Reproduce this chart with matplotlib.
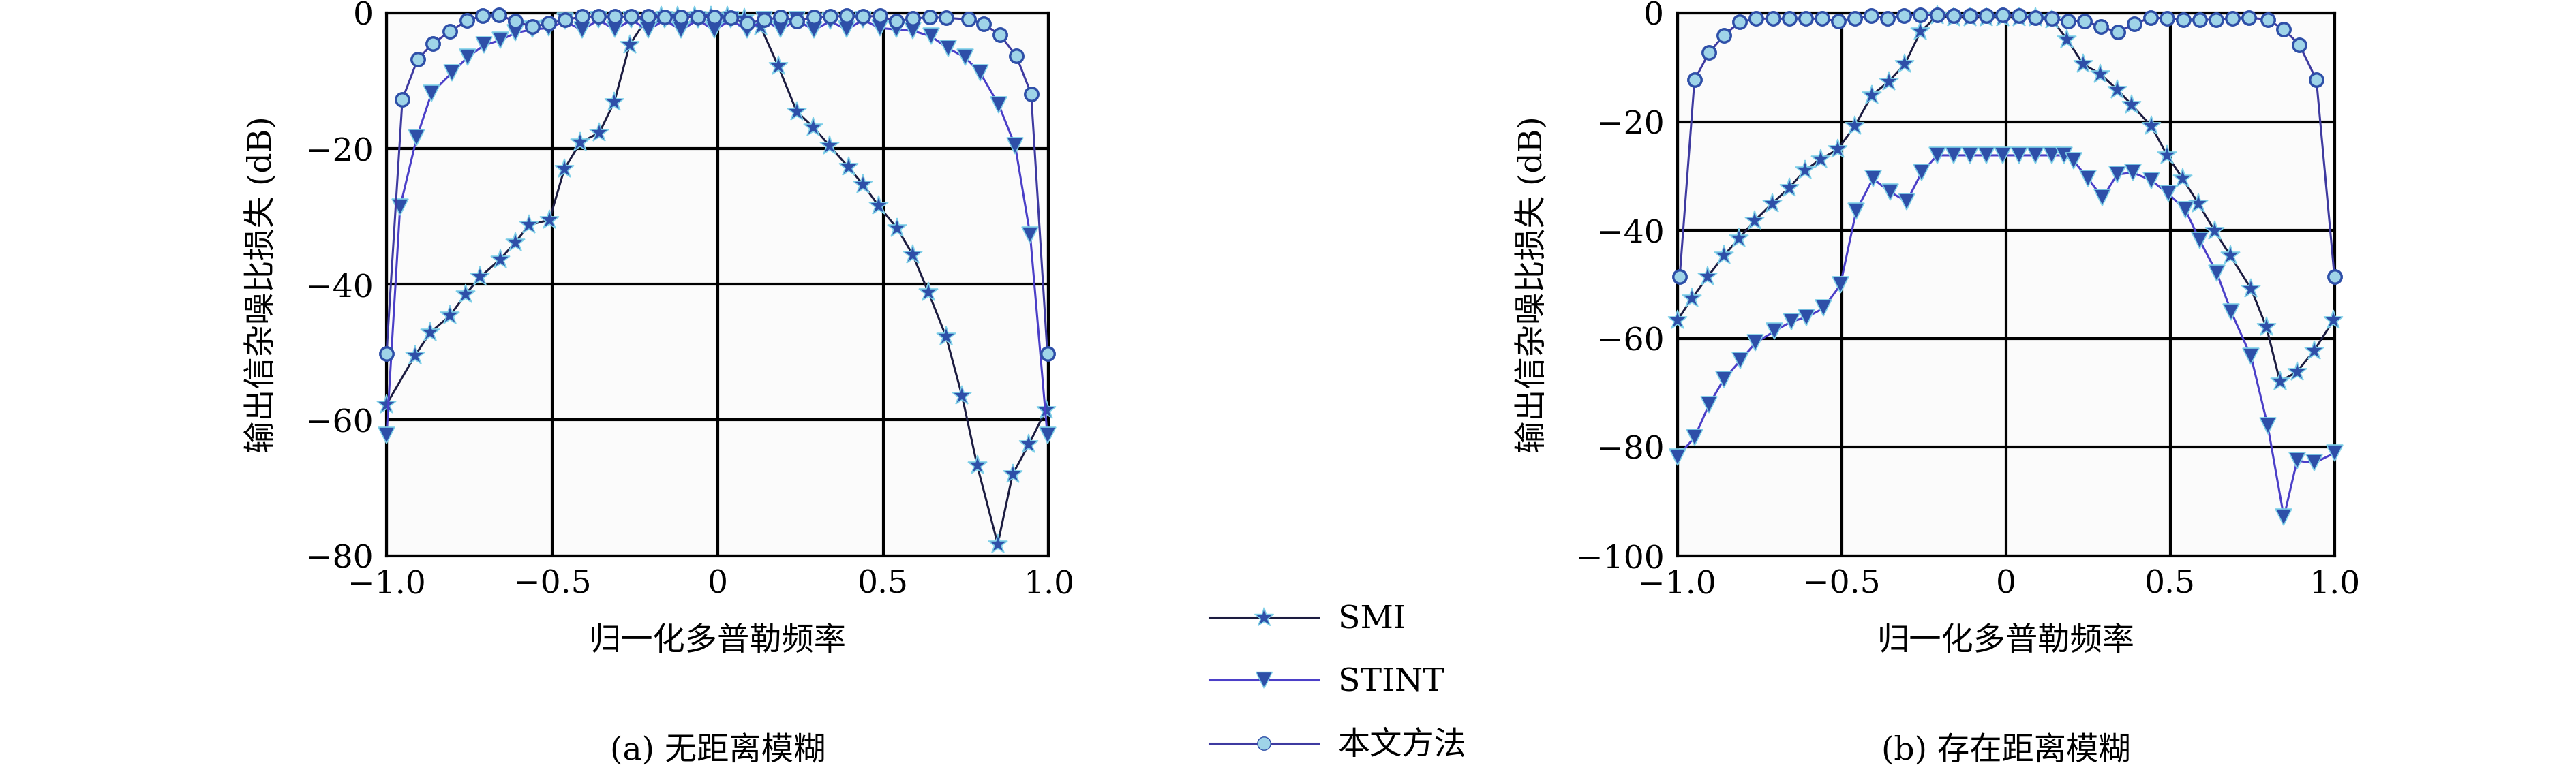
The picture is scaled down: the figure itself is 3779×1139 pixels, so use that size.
import numpy as np
import matplotlib
matplotlib.use("Agg")
import matplotlib.pyplot as plt
from matplotlib.lines import Line2D

plt.rcParams['font.family'] = ['DejaVu Serif', 'Noto Sans CJK SC']
plt.rcParams['axes.unicode_minus'] = True

# ---------- (a) no range ambiguity ----------
a_smi_x = [-1.0,-0.914,-0.868,-0.808,-0.762,-0.717,-0.657,-0.611,-0.569,-0.508,-0.463,-0.415,-0.357,-0.312,-0.266,-0.218,
           -0.17,-0.12,-0.07,-0.02,0.03,0.08,0.13,0.183,0.239,0.289,0.339,0.395,0.44,0.486,0.542,0.589,0.637,0.69,0.738,0.784,0.846,0.891,0.94,0.992]
a_smi_y = [-57.7,-50.5,-47.1,-44.6,-41.5,-38.9,-36.3,-33.8,-31.2,-30.5,-23.0,-19.1,-17.6,-13.1,-4.7,-1.1,
           -0.5,-0.5,-0.5,-0.5,-0.5,-0.8,-2.0,-7.8,-14.5,-16.8,-19.6,-22.7,-25.3,-28.4,-31.7,-35.6,-41.2,-47.7,-56.4,-66.7,-78.3,-68.0,-63.6,-58.5]
a_stint_x = [-1.0,-0.959,-0.909,-0.864,-0.803,-0.755,-0.705,-0.657,-0.61,-0.56,-0.51,-0.46,-0.41,-0.36,-0.31,-0.26,-0.21,-0.16,-0.11,
             -0.06,-0.01,0.04,0.09,0.14,0.19,0.24,0.29,0.34,0.39,0.44,0.49,0.54,0.59,0.644,0.697,0.747,0.793,0.849,0.899,0.944,0.996]
a_stint_y = [-62.3,-28.6,-18.4,-11.8,-8.8,-6.5,-4.7,-4.0,-2.9,-2.4,-2.2,-1.2,-2.5,-1.0,-2.4,-1.0,-2.5,-1.0,-2.5,
             -1.0,-2.5,-1.0,-2.5,-1.0,-2.4,-1.0,-2.5,-1.2,-2.4,-1.0,-2.2,-2.4,-2.6,-3.4,-5.2,-6.5,-8.8,-13.5,-19.6,-32.7,-62.3]
a_prop_x = [-1.0,-0.952,-0.906,-0.861,-0.808,-0.758,-0.71,-0.66,-0.61,-0.56,-0.51,-0.46,-0.41,-0.36,-0.31,-0.26,-0.21,-0.16,-0.11,
            -0.06,-0.01,0.04,0.09,0.14,0.19,0.24,0.29,0.34,0.39,0.44,0.49,0.54,0.59,0.64,0.69,0.758,0.803,0.853,0.902,0.947,0.996]
a_prop_y = [-50.2,-12.7,-6.8,-4.5,-2.7,-1.1,-0.4,-0.3,-1.2,-2.0,-1.5,-1.0,-0.5,-0.5,-0.5,-0.5,-0.5,-0.6,-0.6,
            -0.6,-0.6,-0.7,-1.5,-1.0,-0.6,-1.2,-0.6,-0.5,-0.4,-0.5,-0.4,-1.2,-0.8,-0.6,-0.7,-0.9,-1.6,-3.2,-6.3,-11.9,-50.2]

# ---------- (b) with range ambiguity ----------
b_smi_x = [-1.0,-0.956,-0.908,-0.859,-0.812,-0.766,-0.712,-0.66,-0.612,-0.564,-0.512,-0.46,-0.408,-0.357,-0.308,-0.26,-0.209,
           -0.16,-0.11,-0.06,-0.01,0.04,0.09,0.14,0.186,0.235,0.287,0.339,0.383,0.442,0.491,0.538,0.586,0.635,0.683,0.746,0.793,0.834,0.886,0.938,0.997]
b_smi_y = [-56.6,-52.6,-48.6,-44.7,-41.5,-38.3,-35.1,-32.2,-29.0,-26.9,-25.1,-20.8,-15.1,-12.6,-9.4,-3.4,-0.5,
           -0.8,-0.8,-0.8,-0.8,-0.8,-0.8,-1.2,-4.8,-9.4,-11.2,-14.1,-16.9,-20.8,-26.2,-30.5,-35.1,-40.1,-44.7,-50.8,-57.9,-67.9,-66.1,-62.2,-56.6]
b_stint_x = [-1.0,-0.948,-0.904,-0.859,-0.808,-0.763,-0.704,-0.652,-0.608,-0.556,-0.504,-0.456,-0.405,-0.352,-0.302,-0.257,-0.209,
             -0.16,-0.11,-0.06,-0.01,0.04,0.09,0.14,0.176,0.206,0.25,0.294,0.339,0.387,0.442,0.494,0.546,0.59,0.642,0.686,0.746,0.797,0.846,0.886,0.938,1.0]
b_stint_y = [-81.8,-78.2,-72.2,-67.5,-64.0,-60.8,-58.6,-56.8,-56.1,-54.4,-50.1,-36.5,-30.5,-33.0,-34.7,-29.4,-26.2,
             -26.2,-26.2,-26.2,-26.2,-26.2,-26.2,-26.2,-26.2,-27.2,-30.5,-34.0,-29.7,-29.4,-30.8,-33.3,-36.2,-41.9,-47.9,-55.1,-63.3,-76.1,-92.9,-82.5,-82.9,-81.1]
b_prop_x = [-0.993,-0.948,-0.904,-0.859,-0.81,-0.76,-0.71,-0.66,-0.61,-0.56,-0.51,-0.46,-0.41,-0.36,-0.31,-0.26,-0.21,-0.16,-0.11,
            -0.06,-0.01,0.04,0.09,0.14,0.19,0.24,0.29,0.34,0.39,0.44,0.49,0.54,0.59,0.64,0.69,0.74,0.797,0.846,0.893,0.945,1.0]
b_prop_y = [-48.6,-12.3,-7.3,-4.1,-1.6,-1.0,-1.0,-1.0,-1.0,-1.0,-1.5,-1.0,-0.5,-1.0,-0.5,-0.3,-0.3,-0.5,-0.5,
            -0.5,-0.3,-0.5,-0.8,-1.0,-1.5,-1.5,-2.5,-3.5,-2.0,-0.8,-1.0,-1.2,-1.2,-1.2,-1.0,-0.8,-1.2,-3.0,-5.8,-12.3,-48.6]

x_ticks = [-1.0, -0.5, 0, 0.5, 1.0]
x_ticklabels = ['\u22121.0', '\u22120.5', '0', '0.5', '1.0']
a_yticks = [0, -20, -40, -60, -80]
b_yticks = [0, -20, -40, -60, -80, -100]
series_names = ['SMI', 'STINT', '本文方法']
xlabel = '归一化多普勒频率'
ylabel = '输出信杂噪比损失 (dB)'
captions = ['(a) 无距离模糊', '(b) 存在距离模糊']

line_cols = ['#1c1c40', '#4b3fc8', '#3e3aa0']
mk_face = '#2e4fa8'
mk_edge = '#7fd0e8'
styles = [dict(marker='*', ms=21), dict(marker='v', ms=17), dict(marker='o', ms=14, mfc='#9fd4e8')]

fig = plt.figure(figsize=(37.8, 11.39), dpi=100)
fs = 34
axes = [fig.add_axes([0.150, 0.284, 0.257, 0.699]), fig.add_axes([0.651, 0.284, 0.255, 0.699])]
data = [[(a_smi_x, a_smi_y), (a_stint_x, a_stint_y), (a_prop_x, a_prop_y)],
        [(b_smi_x, b_smi_y), (b_stint_x, b_stint_y), (b_prop_x, b_prop_y)]]
yt = [a_yticks, b_yticks]
for k, ax in enumerate(axes):
    ax.set_facecolor('#fbfbfb')
    for j, (xs, ys) in enumerate(data[k]):
        st = dict(styles[j])
        mfc = st.pop('mfc', mk_face)
        ax.plot(xs, ys, color=line_cols[j], lw=2.2, mfc=mfc, mec=mk_face if j == 2 else mk_edge,
                mew=2.5 if j == 2 else 1.2, zorder=3, clip_on=False, **st)
    ax.set_xlim(-1, 1)
    ax.set_ylim(min(yt[k]), 0)
    ax.set_xticks(x_ticks)
    ax.set_xticklabels(x_ticklabels)
    ax.set_yticks(yt[k])
    ax.set_yticklabels([('\u2212%d' % -v) if v < 0 else '0' for v in yt[k]])
    ax.grid(True, color='black', lw=3)
    ax.tick_params(length=0, labelsize=fs, pad=14)
    for s in ax.spines.values():
        s.set_linewidth(3)
    ax.set_xlabel(xlabel, fontsize=fs, labelpad=28)
    ax.set_ylabel(ylabel, fontsize=fs, labelpad=28)
    ax.text(0.5, -0.36, captions[k], transform=ax.transAxes, ha='center', va='center', fontsize=fs)

handles = [Line2D([], [], color=line_cols[j], lw=2.2, mfc=styles[j].get('mfc', mk_face),
                  mec=mk_face if j == 2 else mk_edge, marker=styles[j]['marker'], ms=styles[j]['ms'])
           for j in range(3)]
fig.legend(handles, series_names, loc='center left', bbox_to_anchor=(0.458, 0.12), frameon=False,
           fontsize=fs, handlelength=3.4, labelspacing=1.0, handletextpad=0.6)

fig.savefig('out.png', dpi=100, facecolor='white')
